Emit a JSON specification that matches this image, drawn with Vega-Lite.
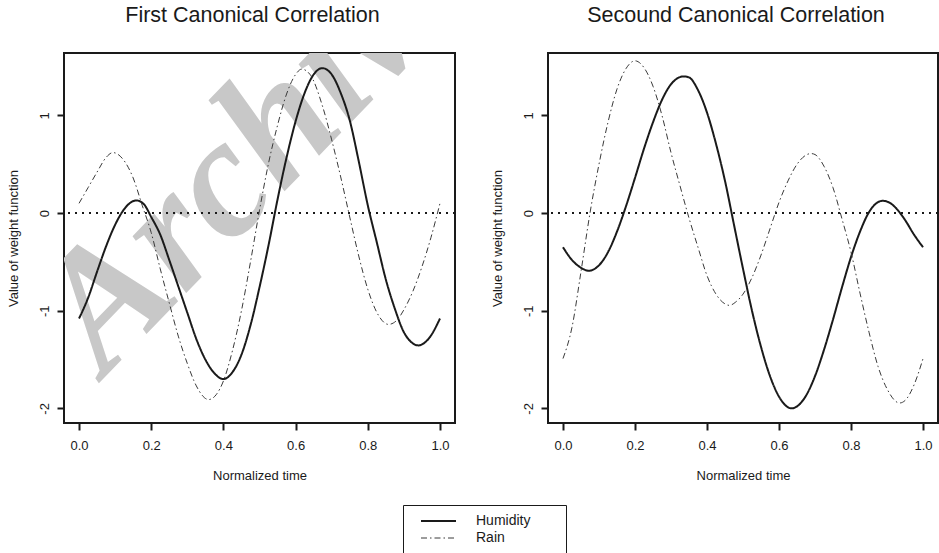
{
  "$schema": "https://vega.github.io/schema/vega-lite/v6.json",
  "background": "white",
  "padding": {"left": 6, "top": 3, "right": 0, "bottom": 0},
  "spacing": 33,
  "config": {
    "font": "Liberation Sans",
    "view": {"stroke": "#1a1a1a", "strokeWidth": 2},
    "axis": {"grid": false, "domain": false, "tickColor": "#1a1a1a", "tickWidth": 2, "tickSize": 7, "labelFont": "Liberation Sans", "labelFontSize": 13, "labelColor": "#1a1a1a", "titleFont": "Liberation Sans", "titleFontSize": 13, "titleFontWeight": "normal", "titleColor": "#1a1a1a"},
    "axisX": {"labelPadding": 9, "titlePadding": 17},
    "axisY": {"labelAngle": -90, "labelPadding": 6, "titlePadding": 18},
    "title": {"fontSize": 21.5, "fontWeight": "normal", "color": "#1a1a1a", "offset": 27, "dx": -7, "font": "Liberation Sans"},
    "legend": {"orient": "none", "legendX": 339, "legendY": 452, "strokeColor": "#1a1a1a", "padding": 8, "symbolType": "M-2.5,0H2.5", "symbolSize": 196, "symbolOffset": 19.5, "labelOffset": 29.5, "labelFontSize": 14, "labelColor": "#1a1a1a", "labelFont": "Liberation Sans", "rowPadding": 2.5, "titleOrient": "right", "titlePadding": 28, "titleFontSize": 11}
  },
  "datasets": {
    "wm": [{"x": 0.072, "y": -1.68, "word": "Archive"}],
    "curves": [
      {"panel": "first", "series": "Humidity", "x": 0, "y": -1.08},
      {"panel": "first", "series": "Humidity", "x": 0.025, "y": -0.87},
      {"panel": "first", "series": "Humidity", "x": 0.05, "y": -0.6},
      {"panel": "first", "series": "Humidity", "x": 0.075, "y": -0.34},
      {"panel": "first", "series": "Humidity", "x": 0.1, "y": -0.12},
      {"panel": "first", "series": "Humidity", "x": 0.125, "y": 0.04},
      {"panel": "first", "series": "Humidity", "x": 0.159, "y": 0.13},
      {"panel": "first", "series": "Humidity", "x": 0.18, "y": 0.09},
      {"panel": "first", "series": "Humidity", "x": 0.2, "y": -0.04},
      {"panel": "first", "series": "Humidity", "x": 0.225, "y": -0.22},
      {"panel": "first", "series": "Humidity", "x": 0.25, "y": -0.48},
      {"panel": "first", "series": "Humidity", "x": 0.275, "y": -0.75},
      {"panel": "first", "series": "Humidity", "x": 0.3, "y": -1.02},
      {"panel": "first", "series": "Humidity", "x": 0.325, "y": -1.29},
      {"panel": "first", "series": "Humidity", "x": 0.35, "y": -1.5},
      {"panel": "first", "series": "Humidity", "x": 0.375, "y": -1.64},
      {"panel": "first", "series": "Humidity", "x": 0.4, "y": -1.7},
      {"panel": "first", "series": "Humidity", "x": 0.425, "y": -1.63},
      {"panel": "first", "series": "Humidity", "x": 0.45, "y": -1.45},
      {"panel": "first", "series": "Humidity", "x": 0.475, "y": -1.15},
      {"panel": "first", "series": "Humidity", "x": 0.5, "y": -0.76},
      {"panel": "first", "series": "Humidity", "x": 0.525, "y": -0.33},
      {"panel": "first", "series": "Humidity", "x": 0.55, "y": 0.14},
      {"panel": "first", "series": "Humidity", "x": 0.575, "y": 0.57},
      {"panel": "first", "series": "Humidity", "x": 0.6, "y": 0.94},
      {"panel": "first", "series": "Humidity", "x": 0.625, "y": 1.23},
      {"panel": "first", "series": "Humidity", "x": 0.65, "y": 1.42},
      {"panel": "first", "series": "Humidity", "x": 0.674, "y": 1.485},
      {"panel": "first", "series": "Humidity", "x": 0.7, "y": 1.42},
      {"panel": "first", "series": "Humidity", "x": 0.725, "y": 1.23},
      {"panel": "first", "series": "Humidity", "x": 0.75, "y": 0.95},
      {"panel": "first", "series": "Humidity", "x": 0.775, "y": 0.53},
      {"panel": "first", "series": "Humidity", "x": 0.8, "y": 0.08},
      {"panel": "first", "series": "Humidity", "x": 0.825, "y": -0.3},
      {"panel": "first", "series": "Humidity", "x": 0.85, "y": -0.68},
      {"panel": "first", "series": "Humidity", "x": 0.875, "y": -0.98},
      {"panel": "first", "series": "Humidity", "x": 0.9, "y": -1.22},
      {"panel": "first", "series": "Humidity", "x": 0.92, "y": -1.32},
      {"panel": "first", "series": "Humidity", "x": 0.94, "y": -1.355},
      {"panel": "first", "series": "Humidity", "x": 0.97, "y": -1.28},
      {"panel": "first", "series": "Humidity", "x": 1, "y": -1.08},
      {"panel": "first", "series": "Rain", "x": 0, "y": 0.1},
      {"panel": "first", "series": "Rain", "x": 0.025, "y": 0.26},
      {"panel": "first", "series": "Rain", "x": 0.05, "y": 0.42},
      {"panel": "first", "series": "Rain", "x": 0.075, "y": 0.57},
      {"panel": "first", "series": "Rain", "x": 0.094, "y": 0.62},
      {"panel": "first", "series": "Rain", "x": 0.12, "y": 0.56},
      {"panel": "first", "series": "Rain", "x": 0.15, "y": 0.36},
      {"panel": "first", "series": "Rain", "x": 0.175, "y": 0.08},
      {"panel": "first", "series": "Rain", "x": 0.2, "y": -0.2},
      {"panel": "first", "series": "Rain", "x": 0.225, "y": -0.57},
      {"panel": "first", "series": "Rain", "x": 0.25, "y": -0.92},
      {"panel": "first", "series": "Rain", "x": 0.275, "y": -1.26},
      {"panel": "first", "series": "Rain", "x": 0.3, "y": -1.54},
      {"panel": "first", "series": "Rain", "x": 0.325, "y": -1.77},
      {"panel": "first", "series": "Rain", "x": 0.359, "y": -1.91},
      {"panel": "first", "series": "Rain", "x": 0.38, "y": -1.86},
      {"panel": "first", "series": "Rain", "x": 0.4, "y": -1.72},
      {"panel": "first", "series": "Rain", "x": 0.425, "y": -1.41},
      {"panel": "first", "series": "Rain", "x": 0.45, "y": -1.0},
      {"panel": "first", "series": "Rain", "x": 0.475, "y": -0.5},
      {"panel": "first", "series": "Rain", "x": 0.5, "y": 0.03},
      {"panel": "first", "series": "Rain", "x": 0.525, "y": 0.51},
      {"panel": "first", "series": "Rain", "x": 0.55, "y": 0.9},
      {"panel": "first", "series": "Rain", "x": 0.575, "y": 1.22},
      {"panel": "first", "series": "Rain", "x": 0.6, "y": 1.42},
      {"panel": "first", "series": "Rain", "x": 0.617, "y": 1.475},
      {"panel": "first", "series": "Rain", "x": 0.64, "y": 1.42},
      {"panel": "first", "series": "Rain", "x": 0.675, "y": 1.09},
      {"panel": "first", "series": "Rain", "x": 0.7, "y": 0.75},
      {"panel": "first", "series": "Rain", "x": 0.725, "y": 0.37},
      {"panel": "first", "series": "Rain", "x": 0.75, "y": -0.04},
      {"panel": "first", "series": "Rain", "x": 0.775, "y": -0.44},
      {"panel": "first", "series": "Rain", "x": 0.8, "y": -0.78},
      {"panel": "first", "series": "Rain", "x": 0.83, "y": -1.05},
      {"panel": "first", "series": "Rain", "x": 0.857, "y": -1.14},
      {"panel": "first", "series": "Rain", "x": 0.88, "y": -1.1},
      {"panel": "first", "series": "Rain", "x": 0.9, "y": -0.99},
      {"panel": "first", "series": "Rain", "x": 0.925, "y": -0.8},
      {"panel": "first", "series": "Rain", "x": 0.95, "y": -0.55},
      {"panel": "first", "series": "Rain", "x": 0.975, "y": -0.25},
      {"panel": "first", "series": "Rain", "x": 1, "y": 0.1},
      {"panel": "second", "series": "Humidity", "x": 0, "y": -0.35},
      {"panel": "second", "series": "Humidity", "x": 0.025, "y": -0.48},
      {"panel": "second", "series": "Humidity", "x": 0.05, "y": -0.56},
      {"panel": "second", "series": "Humidity", "x": 0.072, "y": -0.59},
      {"panel": "second", "series": "Humidity", "x": 0.1, "y": -0.535},
      {"panel": "second", "series": "Humidity", "x": 0.125, "y": -0.4},
      {"panel": "second", "series": "Humidity", "x": 0.15, "y": -0.19},
      {"panel": "second", "series": "Humidity", "x": 0.175, "y": 0.07},
      {"panel": "second", "series": "Humidity", "x": 0.2, "y": 0.36},
      {"panel": "second", "series": "Humidity", "x": 0.225, "y": 0.66},
      {"panel": "second", "series": "Humidity", "x": 0.25, "y": 0.93},
      {"panel": "second", "series": "Humidity", "x": 0.275, "y": 1.16},
      {"panel": "second", "series": "Humidity", "x": 0.3, "y": 1.32},
      {"panel": "second", "series": "Humidity", "x": 0.335, "y": 1.4},
      {"panel": "second", "series": "Humidity", "x": 0.35, "y": 1.39},
      {"panel": "second", "series": "Humidity", "x": 0.375, "y": 1.26},
      {"panel": "second", "series": "Humidity", "x": 0.4, "y": 1.03},
      {"panel": "second", "series": "Humidity", "x": 0.425, "y": 0.71},
      {"panel": "second", "series": "Humidity", "x": 0.45, "y": 0.33},
      {"panel": "second", "series": "Humidity", "x": 0.475, "y": -0.12},
      {"panel": "second", "series": "Humidity", "x": 0.5, "y": -0.57},
      {"panel": "second", "series": "Humidity", "x": 0.525, "y": -1.0},
      {"panel": "second", "series": "Humidity", "x": 0.55, "y": -1.37},
      {"panel": "second", "series": "Humidity", "x": 0.575, "y": -1.67},
      {"panel": "second", "series": "Humidity", "x": 0.6, "y": -1.88},
      {"panel": "second", "series": "Humidity", "x": 0.635, "y": -2.0},
      {"panel": "second", "series": "Humidity", "x": 0.65, "y": -1.98},
      {"panel": "second", "series": "Humidity", "x": 0.675, "y": -1.87},
      {"panel": "second", "series": "Humidity", "x": 0.7, "y": -1.67},
      {"panel": "second", "series": "Humidity", "x": 0.725, "y": -1.4},
      {"panel": "second", "series": "Humidity", "x": 0.75, "y": -1.09},
      {"panel": "second", "series": "Humidity", "x": 0.775, "y": -0.76},
      {"panel": "second", "series": "Humidity", "x": 0.8, "y": -0.45},
      {"panel": "second", "series": "Humidity", "x": 0.825, "y": -0.19},
      {"panel": "second", "series": "Humidity", "x": 0.85, "y": 0.01},
      {"panel": "second", "series": "Humidity", "x": 0.87, "y": 0.1},
      {"panel": "second", "series": "Humidity", "x": 0.888, "y": 0.126},
      {"panel": "second", "series": "Humidity", "x": 0.91, "y": 0.1},
      {"panel": "second", "series": "Humidity", "x": 0.93, "y": 0.03},
      {"panel": "second", "series": "Humidity", "x": 0.95, "y": -0.07},
      {"panel": "second", "series": "Humidity", "x": 0.975, "y": -0.22},
      {"panel": "second", "series": "Humidity", "x": 1, "y": -0.35},
      {"panel": "second", "series": "Rain", "x": 0, "y": -1.49},
      {"panel": "second", "series": "Rain", "x": 0.025, "y": -1.17},
      {"panel": "second", "series": "Rain", "x": 0.05, "y": -0.6},
      {"panel": "second", "series": "Rain", "x": 0.075, "y": 0.0},
      {"panel": "second", "series": "Rain", "x": 0.1, "y": 0.5},
      {"panel": "second", "series": "Rain", "x": 0.125, "y": 0.93},
      {"panel": "second", "series": "Rain", "x": 0.15, "y": 1.27},
      {"panel": "second", "series": "Rain", "x": 0.175, "y": 1.48},
      {"panel": "second", "series": "Rain", "x": 0.2, "y": 1.56},
      {"panel": "second", "series": "Rain", "x": 0.225, "y": 1.49},
      {"panel": "second", "series": "Rain", "x": 0.25, "y": 1.3},
      {"panel": "second", "series": "Rain", "x": 0.275, "y": 1.0},
      {"panel": "second", "series": "Rain", "x": 0.3, "y": 0.62},
      {"panel": "second", "series": "Rain", "x": 0.325, "y": 0.28},
      {"panel": "second", "series": "Rain", "x": 0.35, "y": -0.05},
      {"panel": "second", "series": "Rain", "x": 0.375, "y": -0.35},
      {"panel": "second", "series": "Rain", "x": 0.4, "y": -0.64},
      {"panel": "second", "series": "Rain", "x": 0.425, "y": -0.83},
      {"panel": "second", "series": "Rain", "x": 0.45, "y": -0.93},
      {"panel": "second", "series": "Rain", "x": 0.462, "y": -0.945},
      {"panel": "second", "series": "Rain", "x": 0.48, "y": -0.91},
      {"panel": "second", "series": "Rain", "x": 0.5, "y": -0.83},
      {"panel": "second", "series": "Rain", "x": 0.525, "y": -0.66},
      {"panel": "second", "series": "Rain", "x": 0.55, "y": -0.43},
      {"panel": "second", "series": "Rain", "x": 0.575, "y": -0.16},
      {"panel": "second", "series": "Rain", "x": 0.6, "y": 0.11},
      {"panel": "second", "series": "Rain", "x": 0.625, "y": 0.33},
      {"panel": "second", "series": "Rain", "x": 0.65, "y": 0.5},
      {"panel": "second", "series": "Rain", "x": 0.689, "y": 0.61},
      {"panel": "second", "series": "Rain", "x": 0.7, "y": 0.6},
      {"panel": "second", "series": "Rain", "x": 0.725, "y": 0.48},
      {"panel": "second", "series": "Rain", "x": 0.75, "y": 0.26},
      {"panel": "second", "series": "Rain", "x": 0.775, "y": -0.06},
      {"panel": "second", "series": "Rain", "x": 0.8, "y": -0.4},
      {"panel": "second", "series": "Rain", "x": 0.825, "y": -0.82},
      {"panel": "second", "series": "Rain", "x": 0.85, "y": -1.22},
      {"panel": "second", "series": "Rain", "x": 0.875, "y": -1.57},
      {"panel": "second", "series": "Rain", "x": 0.9, "y": -1.8},
      {"panel": "second", "series": "Rain", "x": 0.935, "y": -1.945},
      {"panel": "second", "series": "Rain", "x": 0.95, "y": -1.92},
      {"panel": "second", "series": "Rain", "x": 0.975, "y": -1.76},
      {"panel": "second", "series": "Rain", "x": 1, "y": -1.49}
    ]
  },
  "hconcat": [
    {
      "title": "First Canonical Correlation",
      "width": 391,
      "height": 370,
      "layer": [
        {
          "data": {"name": "wm"},
          "mark": {"type": "text", "clip": true, "angle": -46, "align": "left", "baseline": "alphabetic", "font": "Liberation Serif", "fontStyle": "italic", "fontWeight": "bold", "fontSize": 170, "color": "#c8c8c8"},
          "encoding": {
            "x": {"field": "x", "type": "quantitative", "scale": {"domain": [-0.0416, 1.0416], "nice": false, "zero": false}},
            "y": {"field": "y", "type": "quantitative", "scale": {"domain": [-2.15, 1.64], "nice": false, "zero": false}},
            "text": {"field": "word"}
          }
        },
        {
          "data": {"name": "curves"},
          "mark": {"type": "rule", "strokeDash": [2, 5], "strokeWidth": 1.6, "color": "#1a1a1a"},
          "encoding": {"y": {"datum": 0, "type": "quantitative"}}
        },
        {
          "data": {"name": "curves"},
          "transform": [{"filter": "datum.panel == 'first'"}],
          "mark": {"type": "line", "interpolate": "monotone"},
          "encoding": {
            "x": {"field": "x", "type": "quantitative", "scale": {"domain": [-0.0416, 1.0416], "nice": false, "zero": false}, "axis": {"values": [0, 0.2, 0.4, 0.6, 0.8, 1], "format": ".1f", "title": "Normalized time"}},
            "y": {"field": "y", "type": "quantitative", "scale": {"domain": [-2.15, 1.64], "nice": false, "zero": false}, "axis": {"values": [-2, -1, 0, 1], "labelExpr": "'' + datum.value", "title": "Value of weight function"}},
            "color": {"field": "series", "type": "nominal", "scale": {"domain": ["Humidity", "Rain"], "range": ["#1a1a1a", "#3a3a3a"]}, "legend": {"title": "\u00a0"}},
            "strokeDash": {"field": "series", "type": "nominal", "scale": {"domain": ["Humidity", "Rain"], "range": [[1, 0], [6, 3, 1.5, 3]]}, "legend": {"title": "\u00a0"}},
            "strokeWidth": {"field": "series", "type": "nominal", "scale": {"type": "ordinal", "domain": ["Humidity", "Rain"], "range": [2, 1]}, "legend": {"title": "\u00a0"}},
            "order": {"field": "x", "type": "quantitative"}
          }
        }
      ]
    },
    {
      "title": "Secound Canonical Correlation",
      "width": 390,
      "height": 370,
      "layer": [
        {
          "data": {"name": "curves"},
          "mark": {"type": "rule", "strokeDash": [2, 5], "strokeWidth": 1.6, "color": "#1a1a1a"},
          "encoding": {"y": {"datum": 0, "type": "quantitative"}}
        },
        {
          "data": {"name": "curves"},
          "transform": [{"filter": "datum.panel == 'second'"}],
          "mark": {"type": "line", "interpolate": "monotone"},
          "encoding": {
            "x": {"field": "x", "type": "quantitative", "scale": {"domain": [-0.0416, 1.0416], "nice": false, "zero": false}, "axis": {"values": [0, 0.2, 0.4, 0.6, 0.8, 1], "format": ".1f", "title": "Normalized time"}},
            "y": {"field": "y", "type": "quantitative", "scale": {"domain": [-2.15, 1.64], "nice": false, "zero": false}, "axis": {"values": [-2, -1, 0, 1], "labelExpr": "'' + datum.value", "title": "Value of weight function"}},
            "color": {"field": "series", "type": "nominal", "scale": {"domain": ["Humidity", "Rain"], "range": ["#1a1a1a", "#3a3a3a"]}, "legend": {"title": "\u00a0"}},
            "strokeDash": {"field": "series", "type": "nominal", "scale": {"domain": ["Humidity", "Rain"], "range": [[1, 0], [6, 3, 1.5, 3]]}, "legend": {"title": "\u00a0"}},
            "strokeWidth": {"field": "series", "type": "nominal", "scale": {"type": "ordinal", "domain": ["Humidity", "Rain"], "range": [2, 1]}, "legend": {"title": "\u00a0"}},
            "order": {"field": "x", "type": "quantitative"}
          }
        }
      ]
    }
  ]
}
